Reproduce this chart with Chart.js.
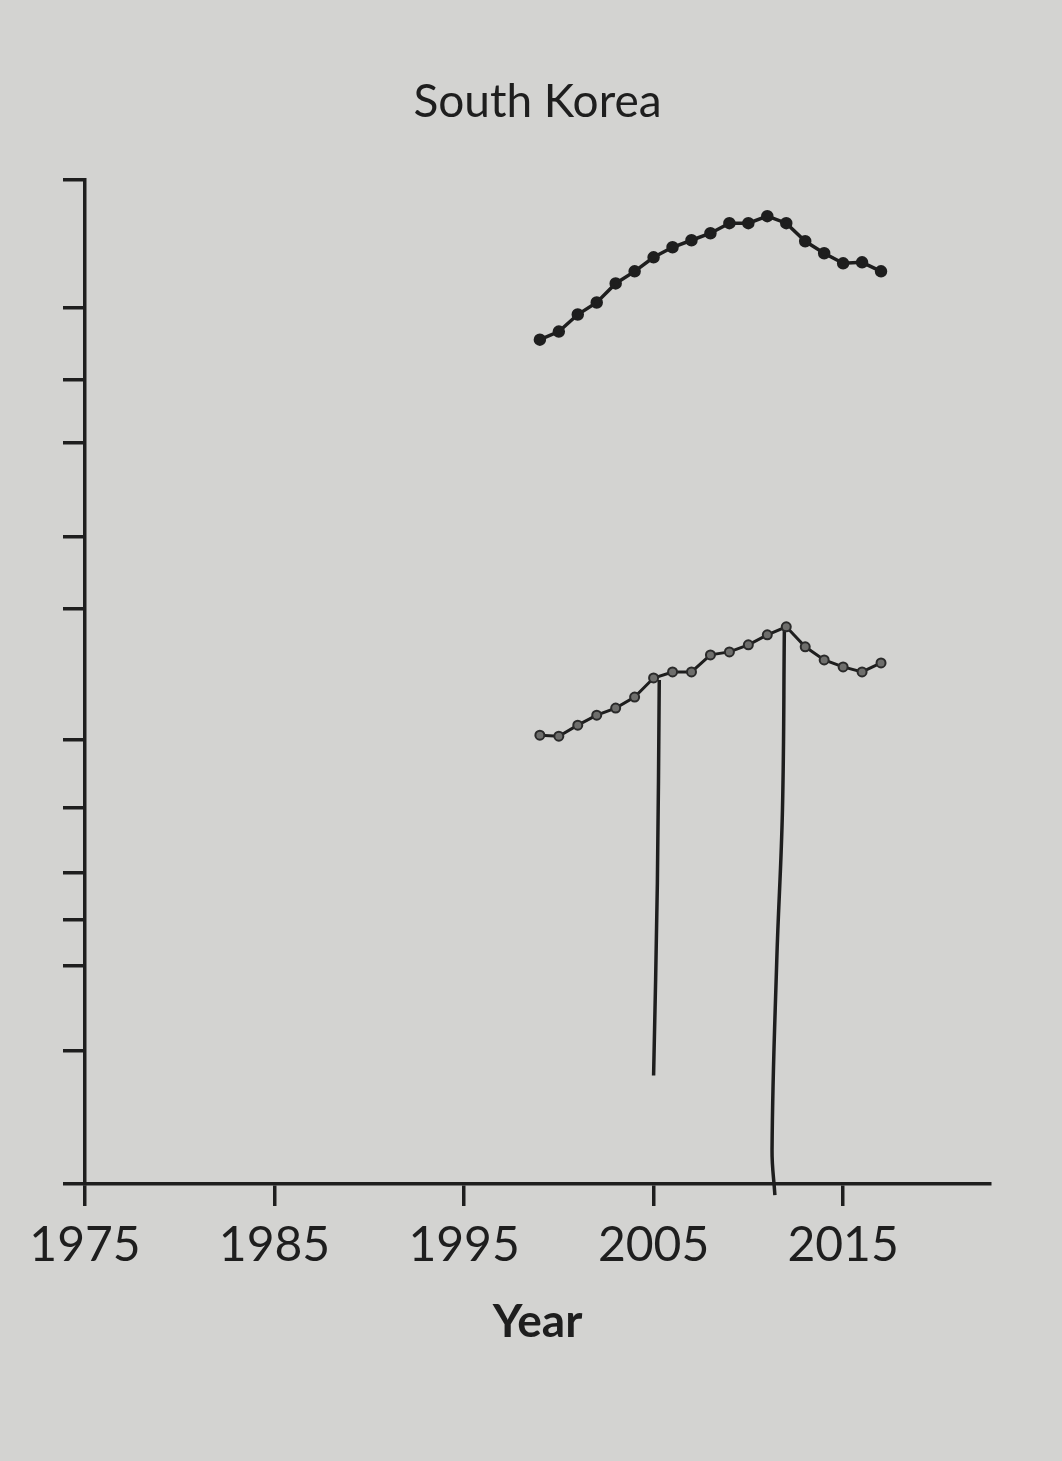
<!DOCTYPE html>
<html lang="en">
<head>
  <meta charset="UTF-8" />
  <title>South Korea</title>
  <style>
    body {
      margin: 0;
      background-color: #d3d3d1;
    }
    canvas {
      display: block;
    }
  </style>
</head>
<body>
  <canvas id="chart" width="1062" height="1461"></canvas>

  <script src="https://cdn.jsdelivr.net/npm/chart.js"></script>
  <script>
    // values (y axis has no labels, so units are relative 0-100)
    const years = [1999, 2000, 2001, 2002, 2003, 2004, 2005, 2006, 2007, 2008,
                   2009, 2010, 2011, 2012, 2013, 2014, 2015, 2016, 2017];
    const upperSeries = [84.1, 84.9, 86.6, 87.8, 89.7, 90.9, 92.3, 93.3, 94.0, 94.7,
                         95.7, 95.7, 96.4, 95.7, 93.9, 92.7, 91.7, 91.8, 90.9];
    const lowerSeries = [44.7, 44.6, 45.7, 46.7, 47.4, 48.5, 50.4, 51.0, 51.0, 52.7,
                         53.0, 53.7, 54.7, 55.5, 53.5, 52.2, 51.5, 51.0, 51.9];

    // pen strokes drawn by hand on the printout
    const penLine1X = [2005.3, 2005.2, 2005.0];
    const penLine1Y = [50.2, 30.0, 10.8];
    const penLine2X = [2011.9, 2011.8, 2011.5, 2011.25, 2011.4];
    const penLine2Y = [55.2, 37.3, 22.3, 3.4, -1.1];

    const xTicks = [1975, 1985, 1995, 2005, 2015];
    const yTicks = [100, 87.3, 80.1, 73.8, 64.5, 57.3, 44.2, 37.5, 31.0, 26.3, 21.7, 13.3, 0];

    const ink = "#1e1e1e";

    Chart.defaults.font.family = "Lato, 'Open Sans', sans-serif";
    Chart.defaults.color = ink;

    const toPoints = (xs, ys) => xs.map((x, i) => ({ x, y: ys[i] }));

    new Chart(document.getElementById("chart"), {
      type: "line",
      data: {
        datasets: [
          {
            label: "Upper",
            data: toPoints(years, upperSeries),
            borderColor: ink,
            borderWidth: 3.5,
            pointRadius: 4.5,
            pointBackgroundColor: ink,
            pointBorderColor: ink,
            tension: 0
          },
          {
            label: "Lower",
            data: toPoints(years, lowerSeries),
            borderColor: ink,
            borderWidth: 3,
            pointRadius: 4.5,
            pointBorderWidth: 2,
            pointBackgroundColor: "#6e6e6c",
            pointBorderColor: "#2a2a2a",
            tension: 0
          },
          {
            label: "pen 1",
            data: toPoints(penLine1X, penLine1Y),
            borderColor: ink,
            borderWidth: 3.5,
            pointRadius: 0,
            tension: 0.4,
            clip: false
          },
          {
            label: "pen 2",
            data: toPoints(penLine2X, penLine2Y),
            borderColor: ink,
            borderWidth: 3.5,
            pointRadius: 0,
            tension: 0.4,
            clip: false
          }
        ]
      },
      options: {
        responsive: false,
        animation: false,
        layout: {
          padding: { left: 0, right: 72, top: 0, bottom: 0 }
        },
        plugins: {
          legend: { display: false },
          tooltip: { enabled: false },
          title: {
            display: true,
            fullSize: false,
            text: "South Korea",
            color: ink,
            font: { size: 46, weight: "normal" },
            padding: { top: 75, bottom: 49.8 }
          }
        },
        scales: {
          x: {
            type: "linear",
            min: 1975,
            max: 2022.75,
            afterBuildTicks: scale => {
              scale.ticks = xTicks.map(v => ({ value: v }));
            },
            afterFit: scale => {
              scale.height = 277;
            },
            grid: {
              display: true,
              drawOnChartArea: false,
              drawTicks: true,
              tickLength: 22,
              color: ink,
              lineWidth: 3.5
            },
            border: { display: true, color: ink, width: 3.5 },
            ticks: {
              color: ink,
              padding: 11,
              maxRotation: 0,
              font: { size: 48 },
              callback: v => String(v)
            },
            title: {
              display: true,
              text: "Year",
              color: ink,
              font: { size: 46, weight: "bold" },
              padding: { top: 0, bottom: 111 }
            }
          },
          y: {
            type: "linear",
            min: 0,
            max: 100,
            afterBuildTicks: scale => {
              scale.ticks = yTicks.map(v => ({ value: v }));
            },
            afterFit: scale => {
              scale.width = 85;
            },
            grid: {
              display: true,
              drawOnChartArea: false,
              drawTicks: true,
              tickLength: 22,
              color: ink,
              lineWidth: 3.5
            },
            border: { display: true, color: ink, width: 3.5 },
            ticks: { display: false }
          }
        }
      }
    });
  </script>
</body>
</html>
